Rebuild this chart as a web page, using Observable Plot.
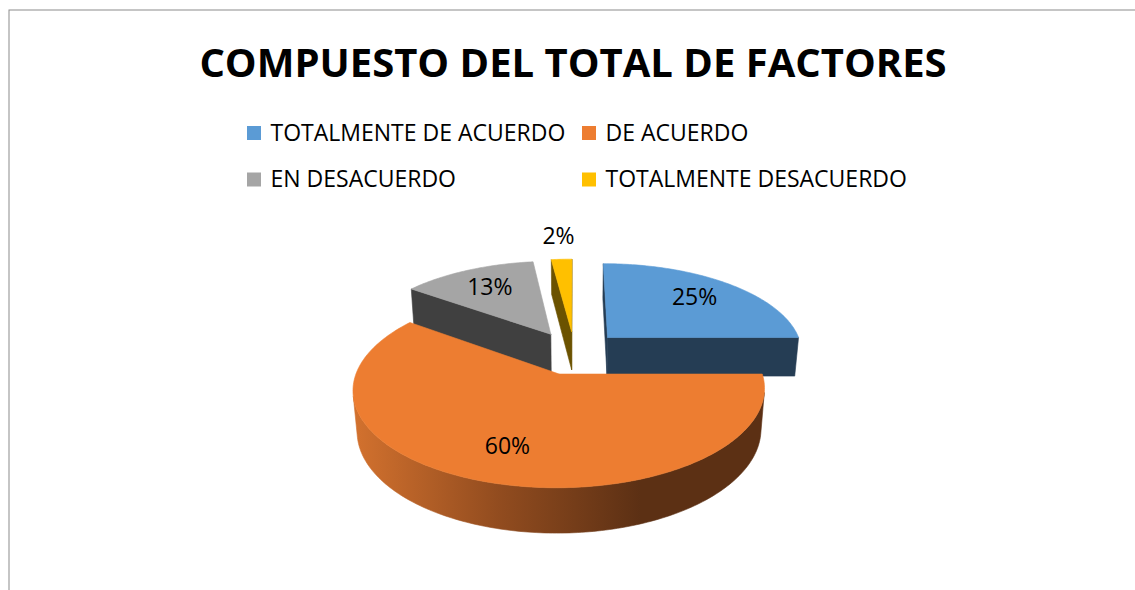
<!DOCTYPE html>
<html><head><meta charset="utf-8">
<script src="https://cdn.jsdelivr.net/npm/d3@7"></script>
<script src="https://cdn.jsdelivr.net/npm/@observablehq/plot@0.6"></script>
<style>html,body{margin:0;padding:0;background:#fff;}</style>
</head><body><div id="chart"></div>
<script>
// ---- data ----
const title = "COMPUESTO DEL TOTAL DE FACTORES";
const categories = ["TOTALMENTE DE ACUERDO", "DE ACUERDO", "EN DESACUERDO", "TOTALMENTE DESACUERDO"];
const values = [25, 60, 13, 2];
const valueLabels = ["25%", "60%", "13%", "2%"];
const topColors = ["#5B9BD5", "#ED7D31", "#A5A5A5", "#FFC000"];
const sideColors = ["#253D54", "url(#orangeSide)", "#404040", "#6B5200"];

// ---- layout ----
const W = 1135, HT = 590;
const geom = {cx: 574, cy: 352, R: 196, depth: 45, dist: 1150, sinTilt: 0.455, explode: 48};
const legendLayout = {x0: 247, colW: 335, y0: 133, rowH: 46.5, box: 14, gap: 9};

const total = d3.sum(values);
let acc = 0;
const slices = values.map((v, i) => {
  const a0 = acc / total * 2 * Math.PI; acc += v;
  const a1 = acc / total * 2 * Math.PI;
  const m = (a0 + a1) / 2;
  return {i, a0, a1, m, ex: geom.explode * Math.sin(m), ez: geom.explode * Math.cos(m)};
});

const s = geom.sinTilt, c = Math.sqrt(1 - s * s), D = geom.dist;
const cam = [0, D * s, -D * c];
function proj([X, Y, Z]) {
  const w = D - Y * s + Z * c, k = D / w;
  return {x: geom.cx + X * k, y: geom.cy - (Y * c + Z * s) * k, w};
}
function rim(sl, t, Y) { return [sl.ex + geom.R * Math.sin(t), Y, sl.ez + geom.R * Math.cos(t)]; }
function visible(n, p) { return n[0] * (cam[0] - p[0]) + n[1] * (cam[1] - p[1]) + n[2] * (cam[2] - p[2]) > 0; }

const faces = [];
const Hh = geom.depth;
for (const sl of slices) {
  const n = Math.max(2, Math.ceil((sl.a1 - sl.a0) / (Math.PI / 180)));
  const ts = d3.range(n + 1).map(j => sl.a0 + (sl.a1 - sl.a0) * j / n);
  faces.push({kind: "top", pts: [[sl.ex, 0, sl.ez], ...ts.map(t => rim(sl, t, 0))], fill: topColors[sl.i]});
  let run = [];
  const flush = () => {
    if (run.length > 1) faces.push({kind: "side", pts: [...run.map(t => rim(sl, t, 0)), ...run.slice().reverse().map(t => rim(sl, t, -Hh))], fill: sideColors[sl.i]});
    run = [];
  };
  for (const t of ts) {
    if (visible([Math.sin(t), 0, Math.cos(t)], rim(sl, t, -Hh / 2))) run.push(t); else flush();
  }
  flush();
  for (const [t, nt] of [[sl.a0, sl.a0 - Math.PI / 2], [sl.a1, sl.a1 + Math.PI / 2]]) {
    const q = [[sl.ex, 0, sl.ez], rim(sl, t, 0), rim(sl, t, -Hh), [sl.ex, -Hh, sl.ez]];
    const cen = [0, 1, 2].map(k => d3.mean(q, d => d[k]));
    if (visible([Math.sin(nt), 0, Math.cos(nt)], cen)) faces.push({kind: "side", pts: q, fill: sideColors[sl.i]});
  }
}
for (const f of faces) { f.p = f.pts.map(proj); f.p.push(f.p[0]); f.w = d3.mean(f.p, d => d.w); }
const sides = faces.filter(f => f.kind === "side").sort((a, b) => b.w - a.w);
const tops = faces.filter(f => f.kind === "top").sort((a, b) => b.w - a.w);

const labelPts = slices.map(sl => {
  const rho = (values[sl.i] / total < 0.05 ? 1.37 : 0.71) * geom.R;
  const p = proj([sl.ex + rho * Math.sin(sl.m), 0, sl.ez + rho * Math.cos(sl.m)]);
  return {x: p.x, y: p.y, text: valueLabels[sl.i]};
});

const legend = categories.map((name, i) => {
  const col = i % 2, row = Math.floor(i / 2);
  const x = legendLayout.x0 + col * legendLayout.colW, y = legendLayout.y0 + row * legendLayout.rowH;
  return {name, color: topColors[i], x1: x, x2: x + legendLayout.box, y1: y - legendLayout.box / 2, y2: y + legendLayout.box / 2, tx: x + legendLayout.box + legendLayout.gap, ty: y};
});

const defs = () => {
  const d = d3.create("svg:defs");
  const g = d.append("linearGradient").attr("id", "orangeSide").attr("gradientUnits", "userSpaceOnUse")
    .attr("x1", 355).attr("x2", 640).attr("y1", 0).attr("y2", 0);
  g.append("stop").attr("offset", 0).attr("stop-color", "#D2712E");
  g.append("stop").attr("offset", 0.5).attr("stop-color", "#924C1F");
  g.append("stop").attr("offset", 1).attr("stop-color", "#5C3014");
  return d.node();
};

const polyMark = f => Plot.line(f.p, {x: "x", y: "y", fill: f.fill, stroke: f.fill, strokeWidth: 0.6, curve: "linear"});

const chart = Plot.plot({
  width: W, height: HT, margin: 0,
  x: {domain: [0, W], range: [0, W], axis: null},
  y: {domain: [0, HT], range: [0, HT], axis: null},
  color: {type: "identity"},
  style: {background: "white", fontFamily: "'Open Sans', sans-serif"},
  marks: [
    defs,
    Plot.frame({stroke: "#8C8C8C", insetLeft: 8.5, insetTop: 9.5, insetRight: -10, insetBottom: -10}),
    Plot.text([title], {x: () => 572.5, y: () => 64, text: d => d, fontSize: 40, fontWeight: "bold", fill: "black"}),
    Plot.rect(legend, {x1: "x1", x2: "x2", y1: "y1", y2: "y2", fill: "color"}),
    Plot.text(legend, {x: "tx", y: "ty", text: "name", textAnchor: "start", fontSize: 23, fill: "#000"}),
    ...sides.map(polyMark),
    ...tops.map(polyMark),
    Plot.text(labelPts, {x: "x", y: "y", text: "text", fontSize: 23, fill: "#000"})
  ]
});
document.getElementById("chart").appendChild(chart);
</script>
</body></html>
